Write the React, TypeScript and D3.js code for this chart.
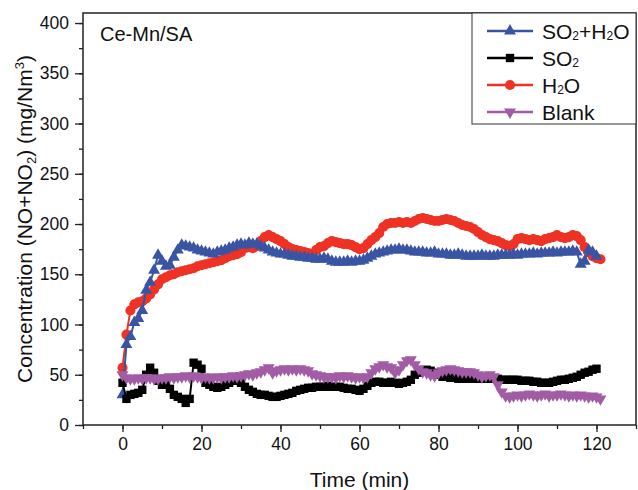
import { useEffect, useRef } from 'react';
import * as d3 from 'd3';

// time axis, one sample per minute
const xTicks = [0, 20, 40, 60, 80, 100, 120];
const yTicks = [0, 50, 100, 150, 200, 250, 300, 350, 400];

// SO2+H2O (blue triangles), t = 0..120
const so2h2o = [
  30, 80, 88, 102, 106, 114, 134, 142, 154, 169, 163, 158, 159, 167, 174, 179, 178, 177, 176, 174,
  173, 172, 171, 170, 172, 173, 174, 176, 177, 179, 180, 179, 181, 180, 180, 178, 176, 174, 172, 171,
  170, 170, 169, 168, 168, 167, 167, 166, 166, 165, 165, 166, 165, 163, 162, 162, 162, 163, 162, 163,
  163, 164, 166, 168, 170, 171, 172, 173, 174, 174, 175, 174, 174, 173, 172, 172, 172, 171, 171, 172,
  170, 170, 170, 169, 169, 170, 169, 168, 168, 168, 168, 169, 168, 168, 168, 169, 169, 169, 169, 170,
  169, 170, 170, 170, 171, 170, 171, 171, 171, 172, 171, 172, 172, 172, 173, 172, 160, 163, 174, 172,
  168,
];

// SO2 (black squares), t = 0..120
const so2 = [
  42, 26, 30, 31, 32, 35, 50, 57, 52, 44, 40, 40, 36, 30, 28, 26, 22, 26, 62, 60,
  56, 42, 40, 38, 37, 38, 40, 42, 44, 45, 42, 38, 35, 33, 31, 30, 30, 29, 28, 28,
  29, 30, 31, 32, 34, 35, 36, 37, 37, 38, 38, 38, 39, 38, 38, 38, 37, 36, 36, 35,
  34, 36, 39, 42, 43, 43, 42, 42, 43, 42, 41, 42, 43, 45, 50, 52, 54, 55, 54, 52,
  50, 48, 48, 47, 47, 46, 46, 46, 47, 46, 46, 46, 46, 46, 46, 46, 45, 45, 45, 45,
  45, 44, 44, 44, 43, 43, 42, 42, 42, 43, 44, 45, 45, 46, 47, 48, 50, 52, 53, 55,
  56,
];

// H2O (red circles), t = 0..121
const h2o = [
  57, 90, 114, 120, 122, 123, 126, 130, 135, 140, 145, 147, 149, 150, 152, 153, 154, 155, 156, 158,
  159, 160, 161, 162, 163, 164, 166, 168, 169, 170, 172, 176, 177, 176, 178, 183, 187, 189, 187, 185,
  183, 180, 177, 175, 174, 173, 172, 171, 170, 174, 177, 178, 181, 183, 182, 181, 180, 180, 179, 177,
  175, 176, 180, 184, 187, 191, 197, 200, 201, 201, 202, 201, 202, 201, 203, 205, 206, 205, 204, 203,
  203, 204, 205, 204, 203, 201, 199, 198, 197, 195, 192, 189, 187, 185, 184, 183, 181, 179, 178, 180,
  185, 186, 185, 184, 185, 184, 183, 185, 186, 187, 189, 187, 186, 187, 189, 188, 184, 177, 172, 168,
  166, 165,
];

// Blank (purple down-triangles), t = 0..121
const blank = [
  50, 47, 46, 46, 47, 46, 47, 47, 46, 46, 47, 47, 48, 47, 48, 48, 49, 48, 49, 48,
  47, 48, 47, 47, 48, 47, 48, 48, 49, 48, 49, 50, 51, 50, 52, 53, 55, 57, 52, 54,
  55, 56, 55, 56, 55, 56, 55, 54, 51, 50, 49, 48, 48, 48, 47, 49, 48, 49, 48, 47,
  48, 47, 48, 52, 56, 58, 60, 58, 57, 52, 55, 60, 64, 65, 60, 56, 53, 52, 50, 49,
  52, 54, 55, 56, 55, 54, 53, 53, 53, 52, 50, 48, 49, 50, 48, 40, 33, 29, 28, 29,
  30, 29, 30, 31, 30, 29, 30, 31, 29, 30, 30, 31, 30, 29, 30, 29, 30, 29, 28, 29,
  28, 26,
];

const App = () => {
  const svgRef = useRef<SVGSVGElement | null>(null);

  useEffect(() => {
    document.body.style.margin = '0';
    const root = d3.select(svgRef.current);
    root.selectAll('*').remove();

    const width = 638;
    const height = 490;
    const m = { left: 83, right: 2, top: 13, bottom: 65 };

    const x = d3.scaleLinear().domain([-10, 130]).range([m.left, width - m.right]);
    const y = d3.scaleLinear().domain([0, 410]).range([height - m.bottom, m.top]);

    const svg = root
      .attr('width', width)
      .attr('height', height)
      .style('font-family', '"Liberation Sans", Arial, sans-serif');

    svg.append('rect').attr('width', width).attr('height', height).attr('fill', '#fff');

    // ==========================================
    // AXES
    // ==========================================
    const xAxis = svg.append('g').attr('transform', `translate(0,${y(0)})`);
    xAxis
      .call(d3.axisBottom(x).tickValues(d3.range(-10, 131, 10)).tickSize(4).tickFormat(() => ''))
      .call((g) => g.select('.domain').remove());
    xAxis
      .append('g')
      .call(d3.axisBottom(x).tickValues(xTicks).tickSize(7).tickPadding(6))
      .call((g) => g.select('.domain').remove());

    const yAxis = svg.append('g').attr('transform', `translate(${x(-10)},0)`);
    yAxis
      .call(d3.axisLeft(y).tickValues(d3.range(0, 401, 25)).tickSize(4).tickFormat(() => ''))
      .call((g) => g.select('.domain').remove());
    yAxis
      .append('g')
      .call(d3.axisLeft(y).tickValues(yTicks).tickSize(8).tickPadding(6))
      .call((g) => g.select('.domain').remove());

    svg.selectAll('.tick line').attr('stroke', '#222').attr('stroke-width', 1.3);
    svg
      .selectAll('.tick text')
      .attr('fill', '#111')
      .style('font-size', '17.5px')
      .style('font-family', '"Liberation Sans", Arial, sans-serif');

    // ==========================================
    // SERIES
    // ==========================================
    const series = [
      { key: 'H2O', values: h2o, color: '#EE3224', symbol: d3.symbolCircle, size: 80, rotate: 0 },
      { key: 'SO2+H2O', values: so2h2o, color: '#3A54A4', symbol: d3.symbolTriangle, size: 62, rotate: 0 },
      { key: 'SO2', values: so2, color: '#000000', symbol: d3.symbolSquare, size: 70, rotate: 0 },
      { key: 'Blank', values: blank, color: '#A25BA5', symbol: d3.symbolTriangle, size: 62, rotate: 180 },
    ];

    const line = d3
      .line<number>()
      .x((_, i) => x(i))
      .y((d) => y(d));

    series.forEach((s) => {
      const g = svg.append('g');
      g.append('path')
        .attr('d', line(s.values))
        .attr('fill', 'none')
        .attr('stroke', s.color)
        .attr('stroke-width', 2);
      const sym = d3.symbol().type(s.symbol).size(s.size);
      g.selectAll('path.pt')
        .data(s.values)
        .enter()
        .append('path')
        .attr('class', 'pt')
        .attr('d', sym)
        .attr('transform', (d, i) => `translate(${x(i)},${y(d)}) rotate(${s.rotate})`)
        .attr('fill', s.color);
    });

    // frame
    svg
      .append('rect')
      .attr('x', x(-10))
      .attr('y', y(410))
      .attr('width', x(130) - x(-10))
      .attr('height', y(0) - y(410))
      .attr('fill', 'none')
      .attr('stroke', '#222')
      .attr('stroke-width', 1.5);

    // ==========================================
    // TEXT
    // ==========================================
    svg
      .append('text')
      .attr('x', 100)
      .attr('y', 41)
      .style('font-size', '20px')
      .attr('fill', '#111')
      .text('Ce-Mn/SA');

    svg
      .append('text')
      .attr('x', (m.left + width - m.right) / 2)
      .attr('y', 487)
      .attr('text-anchor', 'middle')
      .style('font-size', '21px')
      .attr('fill', '#111')
      .text('Time (min)');

    const yl = svg
      .append('text')
      .attr('transform', `translate(32,${(m.top + height - m.bottom) / 2}) rotate(-90)`)
      .attr('text-anchor', 'middle')
      .style('font-size', '21px')
      .attr('fill', '#111');
    yl.append('tspan').text('Concentration (NO+NO');
    yl.append('tspan').attr('font-size', '13px').attr('dy', 4).text('2');
    yl.append('tspan').attr('dy', -4).text(') (mg/Nm');
    yl.append('tspan').attr('font-size', '13px').attr('dy', -8).text('3');
    yl.append('tspan').attr('dy', 8).text(')');

    // ==========================================
    // LEGEND
    // ==========================================
    const legend = svg.append('g');
    legend
      .append('rect')
      .attr('x', 472)
      .attr('y', 13)
      .attr('width', 164)
      .attr('height', 111)
      .attr('fill', '#fff')
      .attr('stroke', '#333')
      .attr('stroke-width', 1);

    const legendItems = [
      { parts: [['SO', 0], ['2', 1], ['+H', 0], ['2', 1], ['O', 0]], s: series[1] },
      { parts: [['SO', 0], ['2', 1]], s: series[2] },
      { parts: [['H', 0], ['2', 1], ['O', 0]], s: series[0] },
      { parts: [['Blank', 0]], s: series[3] },
    ];

    legendItems.forEach((item, i) => {
      const cy = 31 + i * 27;
      legend
        .append('line')
        .attr('x1', 487)
        .attr('x2', 533)
        .attr('y1', cy)
        .attr('y2', cy)
        .attr('stroke', item.s.color)
        .attr('stroke-width', 2.5);
      legend
        .append('path')
        .attr('d', d3.symbol().type(item.s.symbol).size(item.s.size)())
        .attr('transform', `translate(510,${cy}) rotate(${item.s.rotate})`)
        .attr('fill', item.s.color);
      const t = legend
        .append('text')
        .attr('x', 542)
        .attr('y', cy + 7.5)
        .style('font-size', '21px')
        .attr('fill', '#111');
      let sub = false;
      item.parts.forEach(([txt, isSub]) => {
        const sp = t.append('tspan').text(txt as string);
        if (isSub && !sub) {
          sp.attr('font-size', '12px').attr('dy', 1);
          sub = true;
        } else if (!isSub && sub) {
          sp.attr('dy', -1);
          sub = false;
        }
      });
    });
  }, []);

  return (
    <div>
      <svg ref={svgRef}></svg>
    </div>
  );
};

export default App;
